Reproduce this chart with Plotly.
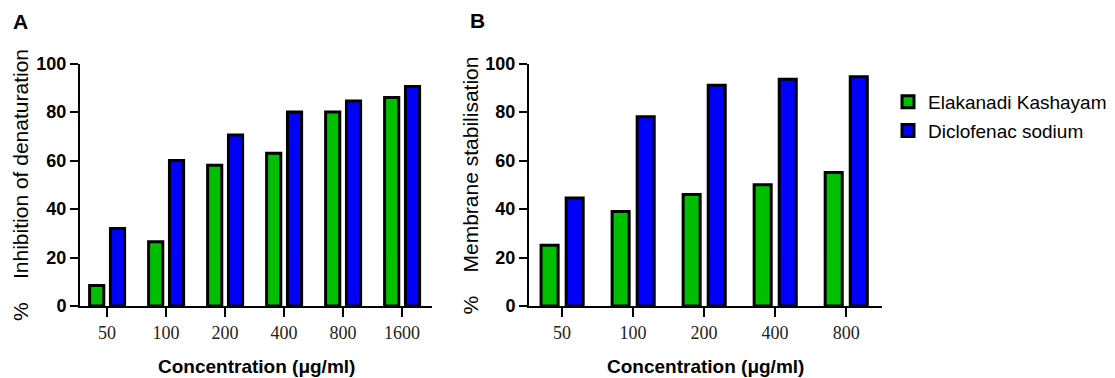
import plotly.graph_objects as go

# ---- data ----
conc_a = ["50", "100", "200", "400", "800", "1600"]
elakanadi_a = [8.5, 26.5, 58, 63, 80, 86]
diclofenac_a = [32, 60, 70.5, 80, 84.5, 90.5]

conc_b = ["50", "100", "200", "400", "800"]
elakanadi_b = [25, 39, 46, 50, 55]
diclofenac_b = [44.5, 78, 91, 93.5, 94.5]

series_names = ["Elakanadi Kashayam", "Diclofenac sodium"]
y_ticks = [0, 20, 40, 60, 80, 100]

GREEN = "#00BE00"
BLUE = "#0000FF"
OFF = 8                      # page body margin
W, H = 1115 - OFF, 378 - OFF

def fx(X):
    return (X - OFF) / W

def fy(Y):
    return 1 - (Y - OFF) / H

fig = go.Figure()
bw = 0.24
off_g = -0.175 - bw / 2
off_b = 0.178 - bw / 2

def add_panel(cats, g, b, xa, ya, show):
    fig.add_trace(go.Bar(x=cats, y=g, name=series_names[0], xaxis=xa, yaxis=ya,
                         marker=dict(color=GREEN, line=dict(color="black", width=3)),
                         width=bw, offset=off_g, showlegend=show, legendgroup="g"))
    fig.add_trace(go.Bar(x=cats, y=b, name=series_names[1], xaxis=xa, yaxis=ya,
                         marker=dict(color=BLUE, line=dict(color="black", width=3)),
                         width=bw, offset=off_b, showlegend=show, legendgroup="b"))

add_panel(conc_a, elakanadi_a, diclofenac_a, "x", "y", False)
add_panel(conc_b, elakanadi_b, diclofenac_b, "x2", "y2", True)

y_dom = [fy(306), fy(63.5)]

xcommon = dict(type="category", showline=True, linewidth=2, linecolor="black",
               ticks="outside", ticklen=9, tickwidth=2, tickcolor="black",
               showgrid=False, zeroline=False, automargin=False,
               tickfont=dict(family="Liberation Serif", size=18, color="#222"))
ycommon = dict(range=[0, 100], tickvals=y_ticks, showline=True, linewidth=2,
               linecolor="black", ticks="outside", ticklen=8, tickwidth=2,
               tickcolor="black", showgrid=False, zeroline=False, automargin=False,
               tickfont=dict(family="Liberation Sans", size=18, color="black",
                             weight="bold"),
               domain=y_dom)

fig.update_layout(
    width=W, height=H,
    margin=dict(l=0, r=0, t=0, b=0, pad=0, autoexpand=False),
    paper_bgcolor="white", plot_bgcolor="white", barmode="overlay",
    xaxis=dict(**xcommon, domain=[fx(80), fx(432)], range=[-0.458, 5.508], anchor="y"),
    yaxis=dict(**ycommon, anchor="x"),
    xaxis2=dict(**xcommon, domain=[fx(529), fx(882)], range=[-0.465, 4.505], anchor="y2"),
    yaxis2=dict(**ycommon, anchor="x2"),
    legend=dict(x=fx(888), y=fy(83), xanchor="left", yanchor="top",
                font=dict(family="Liberation Sans", size=19, color="black"),
                tracegroupgap=1, bgcolor="rgba(0,0,0,0)"),
    font=dict(family="Liberation Sans"),
)

def ann(x, y, text, size, bold=False, angle=0):
    fig.add_annotation(x=fx(x), y=fy(y), xref="paper", yref="paper",
                       text=text, showarrow=False, textangle=angle,
                       xanchor="center", yanchor="middle",
                       font=dict(family="Liberation Sans", size=size, color="black",
                                 weight="bold" if bold else "normal"))

ann(20.5, 21.5, "A", 21, bold=True)
ann(477.5, 21, "B", 21, bold=True)
ann(256, 366, "Concentration (μg/ml)", 19, bold=True)
ann(705, 366, "Concentration (μg/ml)", 19, bold=True)
ann(20, 185, "%&nbsp;&nbsp;&nbsp;&nbsp;Inhibition of denaturation", 21, angle=-90)
ann(469.5, 185, "%&nbsp;&nbsp;&nbsp;&nbsp;Membrane stabilisation", 21, angle=-90)

fig.write_html("out.html")
